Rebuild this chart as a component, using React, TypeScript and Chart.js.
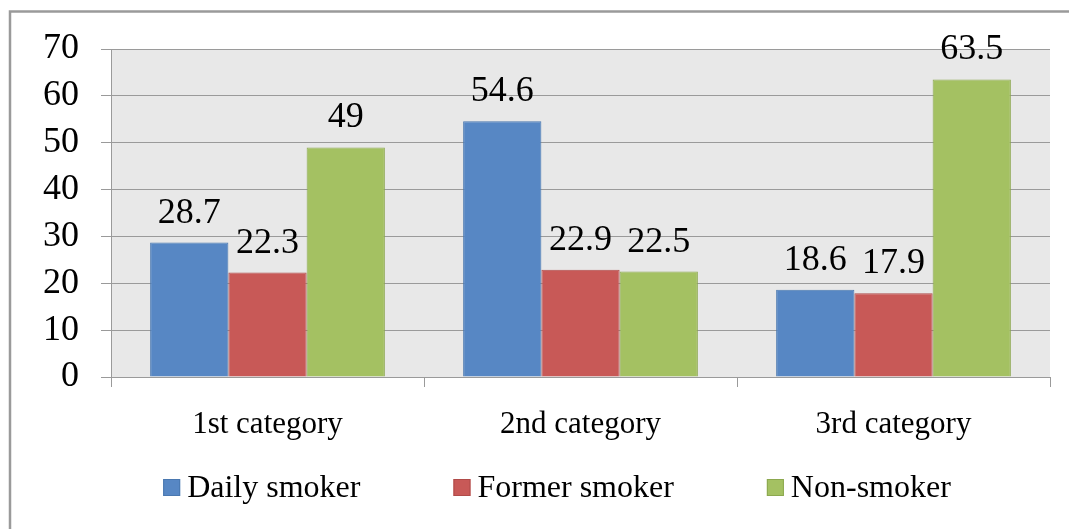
import React, { useEffect, useRef } from "react";
import { Chart, registerables } from "chart.js";

Chart.register(...registerables);

const categories = ["1st category", "2nd category", "3rd category"];
const seriesNames = ["Daily smoker", "Former smoker", "Non-smoker"];
const dailySmoker = [28.7, 54.6, 18.6];
const formerSmoker = [22.3, 22.9, 17.9];
const nonSmoker = [49, 22.5, 63.5];
const yTicks = [0, 10, 20, 30, 40, 50, 60, 70];

const fills = ["#5787C4", "#C85957", "#A4C162"];
const borders = ["#4A78B0", "#B04B49", "#8CA84F"];
const FONT = "'Liberation Serif', 'Times New Roman', serif";

const bgPlugin = {
  id: "bgPlugin",
  beforeDraw(chart: any) {
    const { ctx, chartArea } = chart;
    ctx.save();
    ctx.fillStyle = "#ffffff";
    ctx.fillRect(0, 0, chart.width, chart.height);
    ctx.fillStyle = "#E8E8E8";
    ctx.fillRect(chartArea.left, chartArea.top, chartArea.right - chartArea.left, chartArea.bottom - chartArea.top);
    ctx.strokeStyle = "#9A9A9A";
    ctx.lineWidth = 2.5;
    ctx.beginPath();
    ctx.moveTo(10, chart.height);
    ctx.lineTo(10, 11.5);
    ctx.lineTo(chart.width, 11.5);
    ctx.stroke();
    ctx.restore();
  },
};

const labelPlugin = {
  id: "labelPlugin",
  afterDatasetsDraw(chart: any) {
    const { ctx } = chart;
    ctx.save();
    ctx.font = `36px ${FONT}`;
    ctx.fillStyle = "#000";
    ctx.textAlign = "center";
    ctx.textBaseline = "alphabetic";
    chart.data.datasets.forEach((ds: any, i: number) => {
      const meta = chart.getDatasetMeta(i);
      meta.data.forEach((el: any, j: number) => {
        ctx.fillText(String(ds.data[j]), el.x, el.y - 20);
      });
    });
    ctx.restore();
  },
};

const legendPlugin = {
  id: "legendPlugin",
  afterDraw(chart: any) {
    const { ctx } = chart;
    ctx.save();
    ctx.font = `32px ${FONT}`;
    const box = 17;
    const gapBoxText = 7;
    const gapItems = 93;
    const widths = seriesNames.map((n) => ctx.measureText(n).width);
    const total = widths.reduce((a, w) => a + box + gapBoxText + w, 0) + gapItems * (seriesNames.length - 1);
    let x = 557 - total / 2;
    const baseline = 497;
    seriesNames.forEach((n, i) => {
      ctx.fillStyle = fills[i];
      ctx.fillRect(x, 479, box, box);
      ctx.strokeStyle = borders[i];
      ctx.lineWidth = 1;
      ctx.strokeRect(x + 0.5, 479.5, box - 1, box - 1);
      ctx.fillStyle = "#000";
      ctx.textAlign = "left";
      ctx.textBaseline = "alphabetic";
      ctx.fillText(n, x + box + gapBoxText, baseline);
      x += box + gapBoxText + widths[i] + gapItems;
    });
    ctx.restore();
  },
};

export default function App() {
  const ref = useRef<HTMLCanvasElement>(null);
  useEffect(() => {
    if (!ref.current) return;
    let chart: any = null;
    let cancelled = false;
    const build = () => {
      if (cancelled || !ref.current) return;
      const data = [dailySmoker, formerSmoker, nonSmoker];
      chart = new Chart(ref.current, {
        type: "bar",
        data: {
          labels: categories,
          datasets: seriesNames.map((name, i) => ({
            label: name,
            data: data[i],
            backgroundColor: fills[i],
            borderColor: borders[i],
            borderWidth: 1,
            categoryPercentage: 0.75,
            barPercentage: 1,
          })),
        },
        options: {
          responsive: false,
          animation: false,
          devicePixelRatio: 1,
          layout: { padding: { top: 49, right: 19, left: 0, bottom: 0 } },
          plugins: { legend: { display: false }, tooltip: { enabled: false } },
          scales: {
            x: {
              grid: { display: true, drawOnChartArea: false, drawTicks: true, tickLength: 10, color: "#9A9A9A", offset: true },
              border: { display: true, color: "#9A9A9A", width: 1 },
              ticks: { font: { family: FONT, size: 31 }, color: "#000", padding: 19 },
              afterFit(scale: any) {
                scale.height = 152;
              },
            },
            y: {
              min: 0,
              max: 70,
              afterBuildTicks(scale: any) {
                scale.ticks = yTicks.map((v) => ({ value: v }));
              },
              grid: { color: "#9A9A9A", tickLength: 10, lineWidth: 1 },
              border: { display: true, color: "#9A9A9A", width: 1 },
              ticks: { font: { family: FONT, size: 36 }, color: "#000", padding: 22 },
              afterFit(scale: any) {
                scale.width = 111;
              },
            },
          },
        },
        plugins: [bgPlugin, labelPlugin, legendPlugin],
      });
    };
    const fontsApi: any = (document as any).fonts;
    if (fontsApi && fontsApi.load) {
      Promise.all([
        fontsApi.load(`32px "Liberation Serif"`),
        fontsApi.load(`36px "Liberation Serif"`),
      ])
        .catch(() => null)
        .then(() => build());
    } else {
      build();
    }
    return () => {
      cancelled = true;
      if (chart) chart.destroy();
    };
  }, []);
  return (
    <div style={{ position: "absolute", left: 0, top: 0, width: 1069, height: 529 }}>
      <canvas ref={ref} width={1069} height={529} />
    </div>
  );
}
